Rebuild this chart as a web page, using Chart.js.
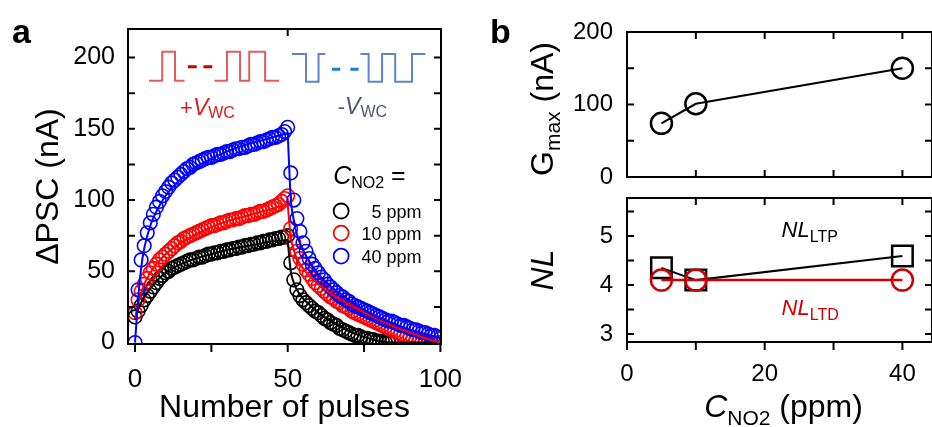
<!DOCTYPE html>
<html>
<head>
<meta charset="utf-8">
<script src="https://cdn.jsdelivr.net/npm/chart.js@4.4.1/dist/chart.umd.min.js"></script>
<style>
  html, body { margin: 0; padding: 0; background: #fff; }
  #wrap { position: relative; width: 932px; height: 427px; overflow: hidden; }
  canvas { position: absolute; }
</style>
</head>
<body>
<div id="wrap">
  <canvas id="chartA" width="470" height="427" style="left:0;top:0"></canvas>
  <canvas id="chartB1" width="452" height="190" style="left:480px;top:0"></canvas>
  <canvas id="chartB2" width="452" height="237" style="left:480px;top:190px"></canvas>
</div>
<script>
// ---- panel a : dPSC vs pulse number (index = pulse number 0..100) ----
const ppm5 = [18, 22, 26, 30, 33, 36, 39, 42, 45, 47,
  49, 50, 52, 53, 54, 55, 56, 57, 58, 58,
  59, 60, 60, 61, 62, 62, 63, 63, 64, 64,
  65, 65, 66, 66, 67, 67, 68, 68, 69, 69,
  70, 70, 71, 71, 72, 72, 73, 73, 74, 74,
  75,
  56, 44, 37, 33, 30, 28, 26, 24, 22,
  21, 19, 17, 16, 14, 13, 12, 10, 9, 8,
  7, 6, 5, 5, 4, 3, 3, 2, 2, 1,
  1, 1, 0, 0, 0, null, null, null, null, null,
  null, null, null, null, null, null, null, null, null, null, null];
const ppm10 = [21, 30, 36, 41, 45, 49, 52, 55, 58, 60,
  62, 64, 66, 68, 70, 71, 73, 74, 75, 76,
  77, 78, 79, 80, 81, 82, 82, 83, 84, 84,
  85, 86, 86, 87, 87, 88, 89, 89, 90, 90,
  91, 92, 92, 93, 94, 95, 96, 97, 99, 101,
  103,
  80, 70, 64, 59, 55, 51, 48, 45, 42,
  40, 38, 36, 34, 32, 31, 29, 28, 26, 25,
  24, 22, 21, 20, 19, 18, 17, 16, 15, 14,
  13, 12, 11, 10, 9, 8, 7, 6, 5, 4,
  4, 3, 2, 2, 1, 1, 0, 0, 0, 0, 0];
const ppm40 = [0, 37, 58, 68, 77, 84, 90, 95, 99, 103,
  106, 109, 112, 114, 116, 118, 120, 122, 123, 125,
  126, 127, 128, 129, 130, 130, 131, 132, 132, 133,
  134, 134, 135, 136, 136, 137, 137, 138, 139, 139,
  140, 141, 141, 142, 143, 144, 144, 145, 146, 148,
  151,
  119, 100, 87, 78, 70, 64, 59, 55, 52,
  49, 46, 44, 41, 39, 37, 35, 33, 32, 30,
  29, 27, 26, 25, 24, 23, 22, 21, 20, 19,
  18, 17, 16, 15, 15, 14, 13, 12, 12, 11,
  10, 9, 9, 8, 7, 7, 6, 5, 5, 4, 3];

// fitted curves (potentiation 0-50, depression 50-100)
const fitPotX = [0, 1, 2, 3, 5, 7, 10, 15, 20, 25, 30, 35, 40, 45, 50];
const fit5PotY = [16, 23, 28, 32, 38, 43, 49, 55, 59, 62, 65, 67, 69, 71, 72];
const fit10PotY = [17, 27, 35, 41, 49, 55, 62, 70, 76, 81, 85, 88, 91, 94, 97];
const fit40PotY = [0, 30, 52, 66, 82, 92, 103, 115, 123, 129, 134, 138, 141, 144, 147];
const fitDepX = [50, 51, 52, 53, 55, 58, 60, 65, 70, 75, 80, 85, 90, 95, 100];
const fit5DepY = [72, 50, 42, 37, 31, 25, 21, 14, 8, 4, 1, 0, 0, 0, 0];
const fit10DepY = [97, 74, 65, 59, 52, 45, 41, 33, 27, 21, 16, 11, 7, 3, 0];
const fit40DepY = [147, 101, 86, 76, 65, 54, 48, 38, 30, 23, 17, 13, 9, 6, 3];

const seriesNames = ['5 ppm', '10 ppm', '40 ppm'];
const seriesColors = ['#000000', '#ff0000', '#0000ff'];
const xTicksA = [0, 50, 100];
const yTicksA = [0, 50, 100, 150, 200];

// pulse sketches in the corner (data units)
const posPulseX = [4.6, 8.9, 8.9, 13.1, 13.1, 16.2, 20, 26.0, 30.1, 30.1, 34.4, 34.4, 37.4, 37.4, 42.6, 42.6, 47.2];
const posPulseY = [183.7, 183.7, 204.1, 204.1, 183.7, 183.7, null, 183.7, 183.7, 204.1, 204.1, 183.7, 183.7, 204.1, 204.1, 183.7, 183.7];
const posDashX = [17.3, 20.2, 21, 22.4, 25.3];
const posDashY = [193.5, 193.5, null, 193.5, 193.5];
const negPulseX = [51.4, 56.0, 56.0, 60.1, 60.1, 62.3, 66, 73.8, 76.5, 76.5, 80.9, 80.9, 85.2, 85.2, 90.7, 90.7, 95.1];
const negPulseY = [202.5, 202.5, 183.0, 183.0, 202.5, 202.5, null, 202.5, 202.5, 183.0, 183.0, 202.5, 202.5, 183.0, 183.0, 202.5, 202.5];
const negDashX = [64.5, 67.2, 68, 70.5, 73.2];
const negDashY = [191.7, 191.7, null, 191.7, 191.7];

// ---- panel b ----
const conc = [5, 10, 40];
const gmax = [74, 101, 150];
const nlLTP = [4.35, 4.1, 4.59];
const nlLTD = [4.1, 4.1, 4.1];
const xTicksB = [0, 20, 40];
const yTicksGmax = [0, 100, 200];
const yTicksNL = [3, 4, 5];

const FONT = "'Liberation Sans', Arial, Helvetica, sans-serif";
const f = (size, style = '') => `${style} ${size}px ${FONT}`;
Chart.defaults.font.family = FONT;
Chart.defaults.color = '#000';

function pts(xs, ys) {
    return xs.map((x, i) => ({x: x, y: ys[i]}));
}
function seriesPts(arr) {
    // pulse number is the index; skip missing points
    return arr.map((v, i) => ({x: i, y: v})).filter(p => p.y !== null);
}

// box round the plot area + tick marks (inward/outward) placed with the chart scales
const framePlugin = {
    id: 'frame',
    afterDatasetsDraw(chart, args, opts) {
        const {ctx, chartArea: a, scales} = chart;
        ctx.save();
        ctx.strokeStyle = '#000';
        ctx.lineWidth = opts.width || 2;
        ctx.strokeRect(a.left, a.top, a.right - a.left, a.bottom - a.top);
        ctx.beginPath();
        (opts.marks || []).forEach(m => {
            m.values.forEach(v => {
                if (m.side === 'left' || m.side === 'right') {
                    const py = scales.y.getPixelForValue(v);
                    const x0 = m.side === 'left' ? a.left : a.right;
                    const dir = (m.side === 'left') === m.inward ? 1 : -1;
                    ctx.moveTo(x0, py);
                    ctx.lineTo(x0 + dir * m.len, py);
                } else {
                    const px = scales.x.getPixelForValue(v);
                    const y0 = m.side === 'top' ? a.top : a.bottom;
                    const dir = (m.side === 'top') === m.inward ? 1 : -1;
                    ctx.moveTo(px, y0);
                    ctx.lineTo(px, y0 + dir * m.len);
                }
            });
        });
        ctx.stroke();
        ctx.restore();
    }
};

// texts with subscripts / italics, legend circles
const labelPlugin = {
    id: 'labels',
    afterDraw(chart, args, opts) {
        const {ctx, scales} = chart;
        (opts.markers || []).forEach(m => {
            ctx.save();
            ctx.strokeStyle = m.color;
            ctx.lineWidth = m.width;
            ctx.beginPath();
            ctx.arc(scales.x.getPixelForValue(m.x), scales.y.getPixelForValue(m.y), m.r, 0, Math.PI * 2);
            ctx.stroke();
            ctx.restore();
        });
        (opts.items || []).forEach(it => {
            let x = it.x, y = it.y;
            if (it.data) {
                x = scales.x.getPixelForValue(it.x);
                y = scales.y.getPixelForValue(it.y);
            }
            ctx.save();
            ctx.translate(x, y);
            if (it.rot) ctx.rotate(it.rot);
            ctx.textBaseline = 'alphabetic';
            ctx.textAlign = 'left';
            let w = 0;
            it.parts.forEach(p => { ctx.font = p.font; w += ctx.measureText(p.t).width; });
            let cx = it.align === 'center' ? -w / 2 : (it.align === 'right' ? -w : 0);
            it.parts.forEach(p => {
                ctx.font = p.font;
                ctx.fillStyle = p.color || it.color || '#000';
                ctx.fillText(p.t, cx, p.dy || 0);
                cx += ctx.measureText(p.t).width;
            });
            ctx.restore();
        });
    }
};

function fixedTicks(list) {
    return s => { s.ticks = list.map(v => ({value: v})); };
}

// ================= panel a =================
const legendY = [92.3, 76.8, 60.7];
const scatterA = [ppm5, ppm10, ppm40].map((arr, i) => ({
    data: seriesPts(arr),
    showLine: false,
    pointStyle: 'circle',
    pointRadius: 6.8,
    pointBorderWidth: 1.6,
    pointBorderColor: seriesColors[i],
    pointBackgroundColor: 'rgba(0,0,0,0)',
    clip: 0,
    order: 10 - i
}));
const fitA = [];
[[fit5PotY, fit5DepY], [fit10PotY, fit10DepY], [fit40PotY, fit40DepY]].forEach((pair, i) => {
    fitA.push({data: pts(fitPotX, pair[0]), showLine: true, pointRadius: 0, borderWidth: 2,
        borderColor: seriesColors[i], cubicInterpolationMode: 'monotone', order: 3 - i, clip: 0});
    fitA.push({data: pts(fitDepX, pair[1]), showLine: true, pointRadius: 0, borderWidth: 2,
        borderColor: seriesColors[i], cubicInterpolationMode: 'monotone', order: 3 - i, clip: 0});
});
const pulseSets = [
    {data: pts(posPulseX, posPulseY), color: '#e25c5c', w: 2},
    {data: pts(posDashX, posDashY), color: '#c80000', w: 3},
    {data: pts(negPulseX, negPulseY), color: '#5d84c8', w: 2},
    {data: pts(negDashX, negDashY), color: '#1c7fd6', w: 3}
].map(p => ({data: p.data, showLine: true, spanGaps: false, pointRadius: 0,
    borderColor: p.color, borderWidth: p.w, tension: 0, order: 0}));

new Chart(document.getElementById('chartA'), {
    type: 'scatter',
    data: {datasets: [...pulseSets, ...fitA, ...scatterA]},
    options: {
        responsive: false,
        animation: false,
        events: [],
        layout: {autoPadding: false, padding: {top: 29, right: 29, left: 0, bottom: 0}},
        plugins: {
            legend: {display: false},
            tooltip: {enabled: false},
            frame: {
                width: 2,
                marks: [
                    {side: 'left', inward: true, len: 7, values: [25, 50, 75, 100, 125, 150, 175, 200]},
                    {side: 'right', inward: true, len: 7, values: [25, 50, 75, 100, 125, 150, 175, 200]},
                    {side: 'bottom', inward: false, len: 8, values: [0, 25, 50, 75, 100]},
                    {side: 'top', inward: true, len: 7, values: [50]}
                ]
            },
            labels: {
                markers: seriesColors.map((c, i) => ({x: 67.5, y: legendY[i], r: 7.5, width: 1.8, color: c})),
                items: [
                    {x: 12, y: 43, parts: [{t: 'a', font: f(34, 'bold')}]},
                    {data: true, x: 14.75, y: 159.6, color: '#d42020', parts: [
                        {t: '+', font: f(22)}, {t: 'V', font: f(23, 'italic')}, {t: 'WC', font: f(16), dy: 3}]},
                    {data: true, x: 66.4, y: 160.4, color: '#4d5877', parts: [
                        {t: '-', font: f(22)}, {t: 'V', font: f(23, 'italic')}, {t: 'WC', font: f(16), dy: 3}]},
                    {data: true, x: 64.9, y: 111.2, parts: [
                        {t: 'C', font: f(25, 'italic')}, {t: 'NO2', font: f(16), dy: 4}, {t: ' =', font: f(25)}]},
                    ...seriesNames.map((n, i) => ({data: true, x: 93.8, y: legendY[i] - 4.6, align: 'right',
                        parts: [{t: n, font: f(18)}]}))
                ]
            }
        },
        scales: {
            x: {
                type: 'linear', min: -2.3, max: 100.2,
                grid: {display: false, drawTicks: false},
                border: {display: false},
                afterBuildTicks: fixedTicks(xTicksA),
                afterFit: s => { s.height = 83; s.paddingLeft = 0; s.paddingRight = 0; },
                ticks: {padding: 20, font: {size: 26}, maxRotation: 0, autoSkip: false},
                title: {display: true, text: 'Number of pulses', font: {size: 32}, padding: {top: 0, bottom: 0}}
            },
            y: {
                type: 'linear', min: -1, max: 220,
                grid: {display: false, drawTicks: false},
                border: {display: false},
                afterBuildTicks: fixedTicks(yTicksA),
                afterFit: s => { s.width = 128; s.paddingTop = 0; s.paddingBottom = 0; },
                ticks: {padding: 13, font: {size: 25}, autoSkip: false},
                title: {display: true, text: '\u0394PSC (nA)', font: {size: 32}, padding: {top: 29.5, bottom: 0}}
            }
        }
    },
    plugins: [framePlugin, labelPlugin]
});

// ================= panel b, top : Gmax =================
new Chart(document.getElementById('chartB1'), {
    type: 'scatter',
    data: {datasets: [{
        data: pts(conc, gmax), showLine: true, borderColor: '#000', borderWidth: 2,
        pointRadius: 10.5, pointBorderWidth: 2.5, pointBorderColor: '#000',
        pointBackgroundColor: 'rgba(0,0,0,0)', tension: 0
    }]},
    options: {
        responsive: false,
        animation: false,
        events: [],
        layout: {autoPadding: false, padding: {top: 32, right: -3, left: 0, bottom: 0}},
        plugins: {
            legend: {display: false},
            tooltip: {enabled: false},
            frame: {
                width: 2,
                marks: [
                    {side: 'left', inward: true, len: 7, values: [50, 100, 150]},
                    {side: 'right', inward: true, len: 7, values: [50, 100, 150]},
                    {side: 'bottom', inward: true, len: 7, values: [10, 20, 30, 40]},
                    {side: 'top', inward: true, len: 7, values: [10, 20, 30, 40]}
                ]
            },
            labels: {
                items: [
                    {x: 10, y: 43, parts: [{t: 'b', font: f(34, 'bold')}]},
                    {x: 73, y: 109, rot: -Math.PI / 2, align: 'center', parts: [
                        {t: 'G', font: f(32)}, {t: 'max', font: f(21), dy: 7}, {t: ' (nA)', font: f(32)}]}
                ]
            }
        },
        scales: {
            x: {
                type: 'linear', min: 0, max: 44.3,
                grid: {display: false, drawTicks: false},
                border: {display: false},
                afterBuildTicks: fixedTicks(xTicksB),
                afterFit: s => { s.height = 13; s.paddingLeft = 0; s.paddingRight = 0; },
                ticks: {display: false}
            },
            y: {
                type: 'linear', min: 0, max: 200,
                grid: {display: false, drawTicks: false},
                border: {display: false},
                afterBuildTicks: fixedTicks(yTicksGmax),
                afterFit: s => { s.width = 147; s.paddingTop = 0; s.paddingBottom = 0; },
                ticks: {padding: 14, font: {size: 24}, autoSkip: false}
            }
        }
    },
    plugins: [framePlugin, labelPlugin]
});

// ================= panel b, bottom : NL =================
new Chart(document.getElementById('chartB2'), {
    type: 'scatter',
    data: {datasets: [
        {data: pts(conc, nlLTD), showLine: true, borderColor: '#d00000', borderWidth: 2.5,
            pointStyle: 'circle', pointRadius: 10.5, pointBorderWidth: 2.5, pointBorderColor: '#d00000',
            pointBackgroundColor: 'rgba(0,0,0,0)', tension: 0},
        {data: pts(conc, nlLTP), showLine: true, borderColor: '#000', borderWidth: 2,
            pointStyle: 'rect', pointRadius: 14.5, pointBorderWidth: 2.5, pointBorderColor: '#000',
            pointBackgroundColor: 'rgba(0,0,0,0)', tension: 0}
    ]},
    options: {
        responsive: false,
        animation: false,
        events: [],
        layout: {autoPadding: false, padding: {top: 8, right: -3, left: 0, bottom: 0}},
        plugins: {
            legend: {display: false},
            tooltip: {enabled: false},
            frame: {
                width: 2,
                marks: [
                    {side: 'left', inward: true, len: 7, values: [3, 3.5, 4, 4.5, 5, 5.5]},
                    {side: 'right', inward: true, len: 7, values: [3, 3.5, 4, 4.5, 5, 5.5]},
                    {side: 'bottom', inward: false, len: 8, values: [0, 10, 20, 30, 40]},
                    {side: 'top', inward: true, len: 7, values: [10, 20, 30, 40]}
                ]
            },
            labels: {
                items: [
                    {x: 73, y: 80, rot: -Math.PI / 2, align: 'center', parts: [{t: 'NL', font: f(32, 'italic')}]},
                    {x: 303.5, y: 227, align: 'center', parts: [
                        {t: 'C', font: f(32, 'italic')}, {t: 'NO2', font: f(21), dy: 8}, {t: ' (ppm)', font: f(32)}]},
                    {data: true, x: 22.45, y: 4.97, parts: [
                        {t: 'NL', font: f(22, 'italic')}, {t: 'LTP', font: f(16), dy: 5}]},
                    {data: true, x: 22.45, y: 3.38, color: '#d00000', parts: [
                        {t: 'NL', font: f(22, 'italic')}, {t: 'LTD', font: f(16), dy: 5}]}
                ]
            }
        },
        scales: {
            x: {
                type: 'linear', min: 0, max: 44.3,
                grid: {display: false, drawTicks: false},
                border: {display: false},
                afterBuildTicks: fixedTicks(xTicksB),
                afterFit: s => { s.height = 85; s.paddingLeft = 0; s.paddingRight = 0; },
                ticks: {padding: 18, font: {size: 24}, maxRotation: 0, autoSkip: false}
            },
            y: {
                type: 'linear', min: 2.837, max: 5.776,
                grid: {display: false, drawTicks: false},
                border: {display: false},
                afterBuildTicks: fixedTicks(yTicksNL),
                afterFit: s => { s.width = 147; s.paddingTop = 0; s.paddingBottom = 0; },
                ticks: {padding: 14, font: {size: 24}, autoSkip: false}
            }
        }
    },
    plugins: [framePlugin, labelPlugin]
});
</script>
</body>
</html>
